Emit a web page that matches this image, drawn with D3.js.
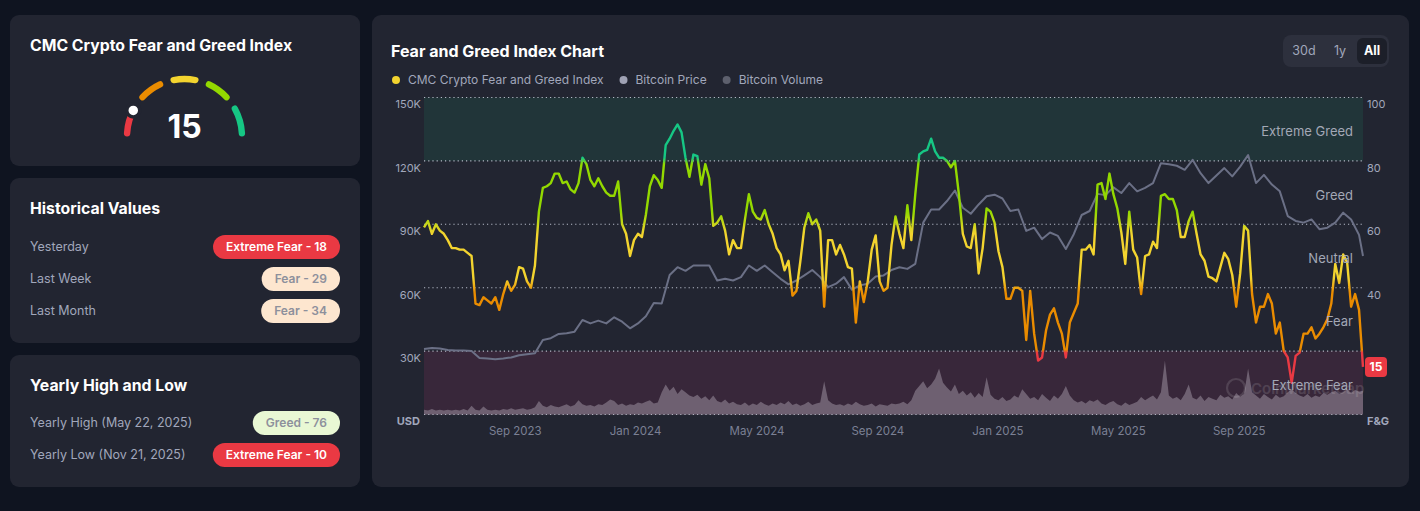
<!DOCTYPE html>
<html>
<head>
<meta charset="utf-8">
<script src="https://cdn.jsdelivr.net/npm/d3@7/dist/d3.min.js"></script>
<style>
  html, body { margin: 0; padding: 0; background: #0f1420; }
  svg { display: block; font-family: Inter, "Noto Sans", sans-serif; }
</style>
</head>
<body>
<svg id="c" width="1420" height="511"></svg>
<script>
// ---------------- DATA ----------------
const currentValue = 15;
const startDay = "2023-06-28";
const totalDays = 948;
const fgStepDays = 4;
const priceStepDays = 8;

// CMC Crypto Fear & Greed index (every 4 days)
const fearGreed = [
  59, 61, 57, 60, 58, 57, 55, 52.5, 52.5, 52,
  52, 51, 50, 35, 34.5, 37, 36, 35, 37, 33,
  38, 42, 39, 41, 46.5, 46, 42, 40, 47, 64,
  71.5, 72, 73, 76, 76, 73, 73.5, 71, 70, 73,
  81, 79, 74, 72, 74.5, 72, 70, 69, 69, 73.5,
  60, 57, 50, 55, 57, 56, 63, 72, 75.5, 74,
  71.5, 85, 87, 89.5, 91.5, 89, 81, 75, 82, 81.5,
  72.5, 79, 74.5, 59.5, 60.5, 62.5, 58, 50.5, 55, 52.5,
  52.5, 61.5, 69.5, 64, 62, 61.5, 64.5, 60, 57, 52.5,
  50.5, 45.5, 48.5, 37.5, 39, 48.5, 59, 63.5, 60, 61.5,
  58, 34, 55, 55, 50.5, 53.5, 50.5, 46.5, 46, 29,
  42, 35.5, 42, 52, 56.5, 42, 39, 40, 53.5, 62.5,
  57, 52.5, 66, 55, 69.5, 82, 83, 83.5, 87, 83,
  81, 81, 80, 78, 80, 69.5, 57, 53, 52.5, 60,
  44.5, 52.5, 65, 64, 60.5, 51.5, 46.5, 36.5, 36.5, 40,
  40, 39, 23.5, 39, 25.5, 17, 18, 26.5, 31.5, 33.5,
  29, 25.5, 18, 29, 32, 35, 52, 52, 53.5, 50.5,
  72.5, 73, 68, 76, 69.5, 65, 57.5, 47.5, 64, 52,
  49.5, 38, 50, 50.5, 54.5, 52.5, 69, 69.5, 68, 68,
  64.5, 56, 56, 61, 64, 57, 50.5, 48.5, 43.5, 43,
  42, 46.5, 51, 49, 44, 34, 44.5, 59.5, 58, 38,
  29, 34, 34, 38, 35, 25.5, 29, 20, 18, 10,
  18.5, 19.5, 25.5, 25.5, 27.5, 24, 25.5, 27.5, 30, 35,
  47.5, 41.5, 50.5, 48, 34, 38, 33, 15
];

// Bitcoin price, thousands USD (every 8 days)
const btcPrice = [
  31, 31.5, 31.2, 30.5, 30.3, 30.3, 30, 26.7, 26.5, 26.2,
  26.5, 27, 28, 28.5, 29, 35.3, 36.1, 38.1, 38.4, 39.2,
  44.7, 43.1, 44.4, 43.1, 46, 43.9, 40.8, 43.1, 46.5, 52.8,
  52.5, 66, 69.7, 68, 70.5, 70.5, 70.5, 63.4, 64.2, 63.4,
  65, 70.5, 68, 70.5, 67.3, 64.2, 61.6, 63.4, 65.8, 68.4,
  65, 60.3, 61.9, 65, 59.1, 61.1, 61.9, 65.3, 65.8, 68.4,
  69.7, 68.9, 71.3, 90.8, 97, 97, 101, 106, 97.8, 95,
  99.4, 103.3, 104, 102.2, 96.3, 97, 86.9, 88.4, 83, 86.1,
  84.5, 78.3, 85.3, 94.4, 96.3, 104.4, 103.8, 107.5, 104.8, 109.5,
  105.6, 107.2, 109.5, 118.9, 118.4, 117.7, 115.8, 120.5, 114.2, 109.5,
  113.1, 116.6, 112.7, 117.3, 122.8, 109.5, 113.4, 108.8, 105.6, 93.9,
  91.6, 90.8, 92.3, 87.7, 88.4, 90.8, 95.5, 92.3, 85, 75
];

// Bitcoin volume, billions USD (every 4 days)
const btcVolume = [
  6, 5, 7, 5, 6, 5, 6, 5, 6, 5,
  7, 5, 11, 6, 5, 10, 6, 5, 6, 5,
  7, 6, 8, 6, 7, 8, 6, 7, 9, 17,
  11, 9, 12, 10, 9, 11, 13, 10, 12, 18,
  13, 11, 12, 10, 13, 12, 15, 19, 17, 12,
  14, 11, 13, 12, 15, 14, 16, 18, 14, 15,
  28, 38, 30, 35, 26, 32, 28, 24, 22, 25,
  20, 23, 18, 24, 17, 15, 19, 14, 16, 13,
  12, 15, 11, 14, 12, 16, 13, 11, 14, 12,
  15, 13, 17, 12, 14, 11, 13, 16, 12, 14,
  15, 42, 18, 14, 12, 13, 11, 14, 12, 16,
  13, 11, 12, 14, 10, 13, 12, 11, 14, 13,
  14, 16, 13, 18, 30, 36, 42, 33, 38, 45,
  58, 40, 34, 29, 38, 26, 30, 24, 28, 21,
  27, 22, 47, 25, 20, 18, 22, 17, 19, 24,
  21, 32, 26, 20, 22, 18, 26, 21, 17, 24,
  20, 26, 36, 24, 18, 15, 17, 14, 18, 16,
  19, 14, 12, 15, 17, 13, 11, 15, 12, 14,
  16, 22, 18, 21, 24, 19, 28, 68, 24, 20,
  22, 18, 26, 38, 21, 19, 24, 17, 22, 20,
  18, 25, 21, 23, 19, 27, 22, 26, 58, 28,
  24, 20, 26, 22, 19, 25, 21, 23, 28, 32,
  27, 24, 22, 26, 21, 24, 22, 27, 25, 28,
  30, 26, 28, 32, 27, 31, 29, 30
];

const priceTicks = [30, 60, 90, 120, 150];
const fgTicks = [40, 60, 80, 100];
const gridValues = [0, 20, 40, 60, 80, 100];
const zones = [
  { name: "Extreme Fear", lo: 0, hi: 20 },
  { name: "Fear", lo: 20, hi: 40 },
  { name: "Neutral", lo: 40, hi: 60 },
  { name: "Greed", lo: 60, hi: 80 },
  { name: "Extreme Greed", lo: 80, hi: 100 }
];
const gaugeColors = ["#ea3943", "#ea8c00", "#f3d42f", "#93d900", "#16c784"];
const historical = [
  { label: "Yesterday", text: "Extreme Fear - 18", kind: "xfear" },
  { label: "Last Week", text: "Fear - 29", kind: "fear" },
  { label: "Last Month", text: "Fear - 34", kind: "fear" }
];
const yearly = [
  { label: "Yearly High", date: "(May 22, 2025)", text: "Greed - 76", kind: "greed" },
  { label: "Yearly Low", date: "(Nov 21, 2025)", text: "Extreme Fear - 10", kind: "xfear" }
];
const legendItems = [
  { name: "CMC Crypto Fear and Greed Index", color: "#f3d42f" },
  { name: "Bitcoin Price", color: "#9fa2b4" },
  { name: "Bitcoin Volume", color: "#5d606d" }
];
const rangeButtons = ["30d", "1y", "All"];

// ---------------- STYLE ----------------
const CARD = "#222531";
const TXT2 = "#a1a7bb";
const badgeStyle = {
  xfear: { fill: "#ea3943", color: "#ffffff" },
  fear: { fill: "#fde6cf", color: "#8d909c" },
  greed: { fill: "#e9f8d4", color: "#8d909c" }
};

const svg = d3.select("#c");

function card(x, y, w, h) {
  svg.append("rect").attr("x", x).attr("y", y).attr("width", w).attr("height", h)
    .attr("rx", 9).attr("fill", CARD);
}
card(10, 15, 350, 151);
card(10, 178, 350, 165);
card(10, 355, 350, 132);
card(372, 15, 1037, 472);

// ---------------- GAUGE CARD ----------------
svg.append("text").attr("x", 30).attr("y", 51).attr("fill", "#fff")
  .attr("font-size", 15.8).attr("font-weight", 700).text("CMC Crypto Fear and Greed Index");

const gcx = 184.5, gcy = 136.5, gr = 57.5;
const gArc = d3.arc().innerRadius(gr - 3.2).outerRadius(gr + 3.2).cornerRadius(3.2);
const gAngle = d3.scaleLinear().domain([0, 100]).range([-Math.PI / 2, Math.PI / 2]);
const gg = svg.append("g").attr("transform", `translate(${gcx},${gcy})`);
gaugeColors.forEach((c, i) => {
  const a0 = i * 20 + (i === 0 ? 0 : 2.2);
  const a1 = (i + 1) * 20 - (i === 4 ? 0 : 2.2);
  gg.append("path").attr("d", gArc({ startAngle: gAngle(a0), endAngle: gAngle(a1) })).attr("fill", c);
});
const dotA = gAngle(currentValue);
gg.append("circle").attr("cx", gr * Math.sin(dotA)).attr("cy", -gr * Math.cos(dotA))
  .attr("r", 6.5).attr("fill", "#fff").attr("stroke", CARD).attr("stroke-width", 3.5);
svg.append("text").attr("x", gcx).attr("y", 138).attr("text-anchor", "middle")
  .attr("fill", "#fff").attr("font-size", 32).attr("font-weight", 700).text(currentValue);

// ---------------- BADGE ROWS ----------------
function badge(rightX, cy, text, kind) {
  const st = badgeStyle[kind];
  const g = svg.append("g");
  const t = g.append("text").attr("y", cy).attr("dy", "0.35em").attr("text-anchor", "end")
    .attr("x", rightX - 13).attr("font-size", 12).attr("font-weight", 600)
    .attr("fill", st.color).text(text);
  const w = t.node().getComputedTextLength() + 26;
  g.insert("rect", "text").attr("x", rightX - w).attr("y", cy - 12).attr("width", w)
    .attr("height", 24).attr("rx", 12).attr("fill", st.fill);
}
svg.append("text").attr("x", 30).attr("y", 214).attr("fill", "#fff")
  .attr("font-size", 15.8).attr("font-weight", 700).text("Historical Values");
historical.forEach((d, i) => {
  const cy = 247 + i * 32;
  svg.append("text").attr("x", 30).attr("y", cy).attr("dy", "0.35em")
    .attr("font-size", 12.5).attr("fill", TXT2).text(d.label);
  badge(340, cy, d.text, d.kind);
});
svg.append("text").attr("x", 30).attr("y", 391).attr("fill", "#fff")
  .attr("font-size", 15.8).attr("font-weight", 700).text("Yearly High and Low");
yearly.forEach((d, i) => {
  const cy = 423 + i * 32;
  svg.append("text").attr("x", 30).attr("y", cy).attr("dy", "0.35em")
    .attr("font-size", 12.5).attr("fill", TXT2).text(d.label + " " + d.date);
  badge(340, cy, d.text, d.kind);
});

// ---------------- CHART CARD ----------------
svg.append("text").attr("x", 391).attr("y", 57).attr("fill", "#fff")
  .attr("font-size", 16).attr("font-weight", 700).text("Fear and Greed Index Chart");

// legend
let lx = 396;
legendItems.forEach(d => {
  svg.append("circle").attr("cx", lx).attr("cy", 80).attr("r", 4).attr("fill", d.color);
  const t = svg.append("text").attr("x", lx + 12).attr("y", 80).attr("dy", "0.35em")
    .attr("font-size", 12).attr("fill", TXT2).text(d.name);
  lx += 12 + t.node().getComputedTextLength() + 20;
});

// range buttons
svg.append("rect").attr("x", 1283).attr("y", 35).attr("width", 106).attr("height", 32)
  .attr("rx", 8).attr("fill", "#2d303d");
svg.append("rect").attr("x", 1357).attr("y", 38).attr("width", 30).attr("height", 26)
  .attr("rx", 6).attr("fill", "#1c1f29");
const btnX = [1304, 1340, 1372];
rangeButtons.forEach((b, i) => {
  svg.append("text").attr("x", btnX[i]).attr("y", 51).attr("dy", "0.35em")
    .attr("text-anchor", "middle").attr("font-size", 12.5)
    .attr("font-weight", b === "All" ? 700 : 400)
    .attr("fill", b === "All" ? "#fff" : TXT2).text(b);
});

// scales
const parse = d3.timeParse("%Y-%m-%d");
const t0 = parse(startDay);
const t1 = d3.timeDay.offset(t0, totalDays);
const x = d3.scaleTime().domain([t0, t1]).range([424, 1363]);
const yFG = d3.scaleLinear().domain([0, 100]).range([414.5, 97.5]);
const yP = d3.scaleLinear().domain([0, 150]).range([414.5, 97.5]);
const yV = d3.scaleLinear().domain([0, 400]).range([414.5, 97.5]);

const fgData = fearGreed.map((v, i) => ({ date: d3.timeDay.offset(t0, i * fgStepDays), v }));
const priceData = btcPrice.map((v, j) => ({ date: d3.timeDay.offset(t0, Math.min(j * priceStepDays, totalDays)), v }));
const volData = btcVolume.map((v, i) => ({ date: d3.timeDay.offset(t0, i * fgStepDays), v }));

const plot = svg.append("g");
// zone bands
plot.append("rect").attr("x", x.range()[0]).attr("width", x.range()[1] - x.range()[0])
  .attr("y", yFG(100)).attr("height", yFG(80) - yFG(100)).attr("fill", "#213539");
plot.append("rect").attr("x", x.range()[0]).attr("width", x.range()[1] - x.range()[0])
  .attr("y", yFG(20)).attr("height", yFG(0) - yFG(20)).attr("fill", "#38273a");

// gridlines
plot.selectAll(".grid").data(gridValues).join("line")
  .attr("x1", x.range()[0]).attr("x2", x.range()[1])
  .attr("y1", d => yFG(d)).attr("y2", d => yFG(d))
  .attr("stroke", "#b4b9c6").attr("stroke-width", 1.1).attr("stroke-dasharray", "1.2,3");

// volume area
plot.append("path").datum(volData)
  .attr("d", d3.area().x(d => x(d.date)).y0(yV(0)).y1(d => yV(d.v)))
  .attr("fill", "#a99fae").attr("opacity", 0.48);

// price line
plot.append("path").datum(priceData)
  .attr("d", d3.line().x(d => x(d.date)).y(d => yP(d.v)).curve(d3.curveLinear))
  .attr("fill", "none").attr("stroke", "#6b7086").attr("stroke-width", 2).attr("stroke-linejoin", "round");

// F&G gradient line
const defs = svg.append("defs");
const grad = defs.append("linearGradient").attr("id", "fgGrad")
  .attr("gradientUnits", "userSpaceOnUse")
  .attr("x1", 0).attr("x2", 0).attr("y1", yFG(0)).attr("y2", yFG(100));
const stops = [
  [0, gaugeColors[0]], [19.5, gaugeColors[0]], [20.5, gaugeColors[1]], [38.5, gaugeColors[1]],
  [43, gaugeColors[2]], [57, gaugeColors[2]], [64, gaugeColors[3]], [79, gaugeColors[3]],
  [81, gaugeColors[4]], [100, gaugeColors[4]]
];
stops.forEach(s => grad.append("stop").attr("offset", s[0] + "%").attr("stop-color", s[1]));
plot.append("path").datum(fgData)
  .attr("d", d3.line().x(d => x(d.date)).y(d => yFG(d.v)))
  .attr("fill", "none").attr("stroke", "url(#fgGrad)").attr("stroke-width", 2.4)
  .attr("stroke-linejoin", "round");

// watermark
const wm = plot.append("g").attr("opacity", 0.12);
wm.append("circle").attr("cx", 1236).attr("cy", 388).attr("r", 9).attr("fill", "none")
  .attr("stroke", "#fff").attr("stroke-width", 2.2);
wm.append("text").attr("x", 1251).attr("y", 389).attr("dy", "0.35em").attr("font-size", 15)
  .attr("font-weight", 600).attr("fill", "#fff").text("CoinMarketCap");

// zone labels
plot.selectAll(".zone").data(zones).join("text")
  .attr("x", 1353).attr("y", d => yFG((d.lo + d.hi) / 2) + 2.5).attr("dy", "0.35em")
  .attr("text-anchor", "end").attr("font-size", 13).attr("fill", "#a3a8b6").text(d => d.name);

// axes
const xTicks = x.ticks(d3.timeMonth.every(4)).filter(d => x(d) < x.range()[1] - 60);
const ax = svg.append("g").attr("transform", `translate(0,${yFG(0)})`)
  .call(d3.axisBottom(x).tickValues(xTicks).tickFormat(d3.timeFormat("%b %Y")).tickSize(0));
ax.select(".domain").remove();
ax.selectAll("text").attr("text-anchor", "start").attr("y", 12).attr("dy", "0.71em")
  .attr("font-size", 11.5).attr("fill", "#7b8094").attr("font-family", "Inter, sans-serif");

const ayl = svg.append("g").attr("transform", "translate(421,0)")
  .call(d3.axisLeft(yP).tickValues(priceTicks).tickFormat(d => d + "K").tickSize(0));
ayl.select(".domain").remove();
ayl.selectAll("text").attr("x", 0).attr("dy", "0.35em").attr("transform", "translate(0,6.5)")
  .attr("font-size", 11).attr("fill", TXT2).attr("font-family", "Inter, sans-serif");
svg.append("text").attr("x", 420).attr("y", 421.5).attr("dy", "0.35em").attr("text-anchor", "end")
  .attr("font-size", 11).attr("font-weight", 700).attr("fill", TXT2).text("USD");

const ayr = svg.append("g").attr("transform", "translate(1367,0)")
  .call(d3.axisRight(yFG).tickValues(fgTicks).tickSize(0));
ayr.select(".domain").remove();
ayr.selectAll("text").attr("x", 0).attr("dy", "0.35em").attr("transform", "translate(0,6.5)")
  .attr("font-size", 11).attr("fill", TXT2).attr("font-family", "Inter, sans-serif");
svg.append("text").attr("x", 1367).attr("y", 421.5).attr("dy", "0.35em")
  .attr("font-size", 11).attr("font-weight", 700).attr("fill", TXT2).text("F&G");

// current value badge
const last = fgData[fgData.length - 1];
const by = yFG(last.v);
svg.append("rect").attr("x", 1365).attr("y", by - 10).attr("width", 22).attr("height", 20)
  .attr("rx", 4).attr("fill", "#ea3943");
svg.append("text").attr("x", 1376).attr("y", by).attr("dy", "0.35em").attr("text-anchor", "middle")
  .attr("font-size", 12).attr("font-weight", 700).attr("fill", "#fff").text(last.v);
</script>
</body>
</html>
